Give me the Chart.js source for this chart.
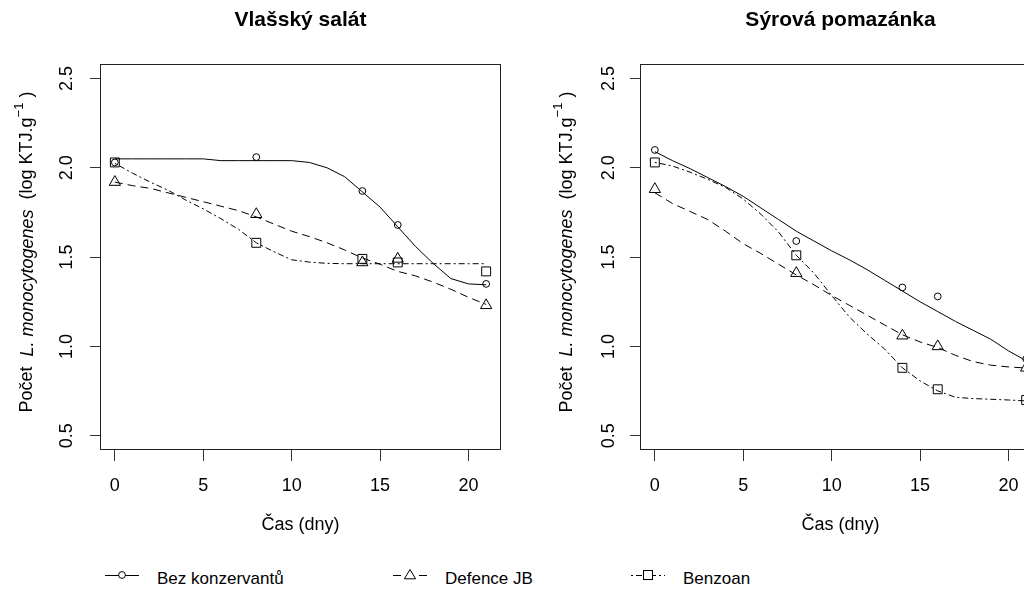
<!DOCTYPE html>
<html>
<head>
<meta charset="utf-8">
<script src="https://cdn.jsdelivr.net/npm/chart.js@4"></script>
<style>
html, body { margin: 0; padding: 0; background: #fff; overflow: hidden; }
#page { position: relative; width: 1024px; height: 589px; overflow: hidden; font-family: "Liberation Sans", Arial, sans-serif; }
#page canvas { position: absolute; top: 0; }
.sym { position: absolute; top: 567px; }
.lab { position: absolute; top: 569px; font-size: 17px; line-height: 19px; color: #000; white-space: nowrap; }
</style>
</head>
<body>
<div id="page">
  <canvas id="left" width="520" height="560" style="left:0"></canvas>
  <canvas id="right" width="540" height="560" style="left:520px"></canvas>
  <div id="legend"></div>
</div>
<script>
// measured days
const days = [0, 8, 14, 16, 21];
// smoothed curves, one value per day
const fitDays = [0, 1, 2, 3, 4, 5, 6, 7, 8, 9, 10, 11, 12, 13, 14, 15, 16, 17, 18, 19, 20, 21];

const seriesNames = ['Bez konzervantů', 'Defence JB', 'Benzoan'];
const panelTitles = ['Vlašský salát', 'Sýrová pomazánka'];
const xTicks = [0, 5, 10, 15, 20];
const yTicks = [0.5, 1.0, 1.5, 2.0, 2.5];

// Vlašský salát
const salatBez = [2.03, 2.06, 1.87, 1.68, 1.35];
const salatDefence = [1.92, 1.74, 1.47, 1.49, 1.23];
const salatBenzoan = [2.03, 1.58, 1.49, 1.47, 1.42];
const salatBezFit = [2.05, 2.05, 2.05, 2.05, 2.05, 2.05, 2.04, 2.04, 2.04, 2.04, 2.04, 2.03, 2.00, 1.95, 1.865, 1.78, 1.67, 1.56, 1.465, 1.38, 1.35, 1.345];
const salatDefenceFit = [1.92, 1.90, 1.885, 1.86, 1.835, 1.81, 1.785, 1.76, 1.725, 1.685, 1.645, 1.615, 1.58, 1.54, 1.495, 1.46, 1.42, 1.395, 1.36, 1.32, 1.275, 1.235];
const salatBenzoanFit = [2.025, 1.97, 1.92, 1.875, 1.82, 1.77, 1.715, 1.655, 1.58, 1.53, 1.485, 1.472, 1.465, 1.463, 1.463, 1.463, 1.463, 1.463, 1.463, 1.463, 1.463, 1.463];

// Sýrová pomazánka
const pomazankaBez = [2.10, 1.59, 1.33, 1.28, 0.93];
const pomazankaDefence = [1.88, 1.41, 1.06, 1.00, 0.88];
const pomazankaBenzoan = [2.03, 1.51, 0.88, 0.76, 0.70];
const pomazankaBezFit = [2.09, 2.04, 1.995, 1.945, 1.895, 1.84, 1.775, 1.71, 1.645, 1.59, 1.535, 1.485, 1.43, 1.37, 1.31, 1.25, 1.195, 1.14, 1.09, 1.04, 0.975, 0.92];
const pomazankaDefenceFit = [1.86, 1.80, 1.755, 1.71, 1.645, 1.575, 1.52, 1.46, 1.40, 1.345, 1.285, 1.23, 1.175, 1.12, 1.065, 1.025, 0.994, 0.95, 0.915, 0.895, 0.885, 0.879];
const pomazankaBenzoanFit = [2.03, 2.01, 1.975, 1.935, 1.89, 1.825, 1.74, 1.64, 1.51, 1.41, 1.285, 1.165, 1.07, 0.985, 0.88, 0.807, 0.751, 0.715, 0.708, 0.704, 0.70, 0.695];

const FONT = '"Liberation Sans", Arial, sans-serif';
Chart.defaults.font.family = FONT;
Chart.defaults.color = '#000';

const styles = [
  { point: 'circle', r: 3.4, dash: [] },
  { point: 'triangle', r: 6.5, dash: [8, 5] },
  { point: 'rect', r: 6.3, dash: [2, 3, 6, 3] }
];

const toXY = (xs, ys) => ys.map((y, i) => ({ x: xs[i], y: y }));

// box round the plot + y title with italic and superscript
const framePlugin = {
  id: 'frame',
  afterDraw(chart, args, opts) {
    const { ctx, chartArea: a } = chart;
    ctx.save();
    ctx.strokeStyle = '#222';
    ctx.lineWidth = 1;
    ctx.strokeRect(Math.round(a.left) + 0.5, Math.round(a.top) + 0.5, Math.round(a.right - a.left) - 1, Math.round(a.bottom - a.top) - 1);

    const parts = [
      { t: 'Počet  ', f: '18px ' + FONT, dy: 0 },
      { t: 'L. monocytogenes', f: 'italic 18px ' + FONT, dy: 0 },
      { t: '  (log KTJ.g', f: '18px ' + FONT, dy: 0 },
      { t: '\u2212' + '1', f: '13px ' + FONT, dy: -8 },
      { t: ' )', f: '18px ' + FONT, dy: 0 }
    ];
    let total = 0;
    parts.forEach(p => { ctx.font = p.f; p.w = ctx.measureText(p.t).width; total += p.w; });
    ctx.translate(opts.titleX, (a.top + a.bottom) / 2 - 5);
    ctx.rotate(-Math.PI / 2);
    ctx.fillStyle = '#000';
    ctx.textBaseline = 'middle';
    ctx.textAlign = 'left';
    let x = -total / 2;
    parts.forEach(p => { ctx.font = p.f; ctx.fillText(p.t, x, p.dy); x += p.w; });
    ctx.restore();
  }
};

function makePanel(id, title, pts, fits, geom) {
  const datasets = [];
  fits.forEach((f, i) => {
    datasets.push({
      label: seriesNames[i] + ' fit',
      data: toXY(fitDays, f),
      showLine: true,
      pointRadius: 0,
      borderColor: '#000',
      borderWidth: 1,
      borderDash: styles[i].dash,
      tension: 0
    });
  });
  pts.forEach((p, i) => {
    datasets.push({
      label: seriesNames[i],
      data: toXY(days, p),
      showLine: false,
      pointStyle: styles[i].point,
      pointRadius: styles[i].r,
      pointBorderWidth: 1,
      pointBorderColor: '#000',
      pointBackgroundColor: 'rgba(0,0,0,0)'
    });
  });

  return new Chart(document.getElementById(id), {
    type: 'scatter',
    data: { datasets: datasets },
    plugins: [framePlugin],
    options: {
      responsive: false,
      animation: false,
      events: [],
      layout: { padding: { left: 0, right: geom.padRight, top: 0, bottom: 0 } },
      plugins: {
        legend: { display: false },
        tooltip: { enabled: false },
        title: {
          display: true,
          text: title,
          fullSize: false,
          font: { size: 21, weight: 'bold' },
          color: '#000',
          padding: { top: 8, bottom: 31 }
        },
        frame: { titleX: geom.titleX }
      },
      scales: {
        x: {
          type: 'linear',
          min: -0.84,
          max: 21.84,
          afterFit: s => { s.height = 110; },
          afterBuildTicks: s => { s.ticks = xTicks.map(v => ({ value: v })); },
          border: { display: false },
          grid: { drawOnChartArea: false, drawTicks: true, tickLength: 11, color: '#333' },
          ticks: { font: { size: 18 }, color: '#000', padding: 14, maxRotation: 0 },
          title: { display: true, text: 'Čas (dny)', font: { size: 18 }, color: '#000', padding: { top: 0, bottom: 24 } }
        },
        y: {
          type: 'linear',
          min: 0.42,
          max: 2.58,
          afterFit: s => { s.width = geom.yWidth; },
          afterBuildTicks: s => { s.ticks = yTicks.map(v => ({ value: v })); },
          border: { display: false },
          grid: { drawOnChartArea: false, drawTicks: true, tickLength: 10, color: '#333' },
          ticks: {
            font: { size: 18 },
            color: '#000',
            padding: geom.tickPad,
            minRotation: 90,
            maxRotation: 90,
            crossAlign: 'center',
            callback: v => v.toFixed(1)
          }
        }
      }
    }
  });
}

makePanel('left', panelTitles[0],
  [salatBez, salatDefence, salatBenzoan],
  [salatBezFit, salatDefenceFit, salatBenzoanFit],
  { yWidth: 100, padRight: 19, titleX: 27.5, tickPad: 10 });

makePanel('right', panelTitles[1],
  [pomazankaBez, pomazankaDefence, pomazankaBenzoan],
  [pomazankaBezFit, pomazankaDefenceFit, pomazankaBenzoanFit],
  { yWidth: 120, padRight: 19, titleX: 46.7, tickPad: 8 });

// legend along the bottom
const legendX = [105, 393, 631];
const legend = document.getElementById('legend');
seriesNames.forEach((name, i) => {
  const dash = styles[i].dash.length ? ' stroke-dasharray="' + styles[i].dash.join(' ') + '"' : '';
  let mark = '';
  if (i === 0) mark = '<circle cx="17" cy="8" r="3.4" fill="#fff" stroke="#000"/>';
  if (i === 1) mark = '<polygon points="17,2.5 22.6,11.8 11.4,11.8" fill="#fff" stroke="#000"/>';
  if (i === 2) mark = '<rect x="12.5" y="3.5" width="9" height="9" fill="#fff" stroke="#000"/>';
  const svg = '<svg class="sym" style="left:' + legendX[i] + 'px" width="34" height="16">' +
    '<line x1="0" y1="8.5" x2="34" y2="8.5" stroke="#000" stroke-width="1"' + dash + '/>' + mark + '</svg>';
  legend.insertAdjacentHTML('beforeend', svg +
    '<span class="lab" style="left:' + (legendX[i] + 52) + 'px">' + name + '</span>');
});
</script>
</body>
</html>
